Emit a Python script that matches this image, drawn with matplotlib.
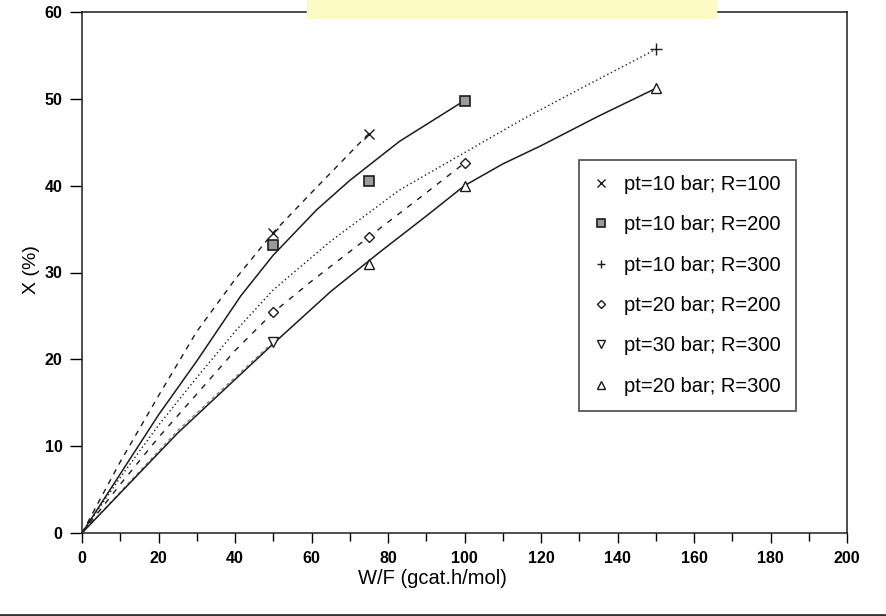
import matplotlib
matplotlib.use("Agg")
import matplotlib.pyplot as plt
from matplotlib.patches import Rectangle
from matplotlib.lines import Line2D

plt.rcParams['font.family'] = ['Liberation Sans', 'DejaVu Sans']

# ---- measured points ----
labels = ["pt=10 bar; R=100", "pt=10 bar; R=200", "pt=10 bar; R=300",
          "pt=20 bar; R=200", "pt=30 bar; R=300", "pt=20 bar; R=300"]

x1 = [50, 75];            y1 = [34.5, 46.0]
x2 = [50, 75, 100];       y2 = [33.2, 40.5, 49.8]
x3 = [150];               y3 = [55.7]
x4 = [50, 75, 100];       y4 = [25.5, 34.1, 42.6]
x5 = [50];                y5 = [22.0]
x6 = [75, 100, 150];      y6 = [31.0, 40.0, 51.2]

# ---- model curves ----
cx1 = [0, 10, 20, 30, 40, 50, 60, 75]
cy1 = [0, 8.2, 15.8, 23.2, 29.2, 34.6, 39.2, 46.0]
cx2 = [0, 20, 30, 41.5, 50, 61.3, 70, 83, 100]
cy2 = [0, 13.6, 19.8, 27.3, 32.0, 37.2, 40.6, 45.1, 49.8]
cx3 = [0, 10, 20, 30, 40, 50, 65, 83, 100, 115, 130, 150]
cy3 = [0, 6.4, 12.4, 17.9, 23.2, 28.0, 33.6, 39.5, 43.8, 47.6, 51.1, 55.7]
cx4 = [0, 10, 20, 30, 40, 50, 60, 75, 88, 100]
cy4 = [0, 5.6, 11.0, 16.0, 21.0, 25.4, 29.0, 34.1, 38.5, 42.6]
cx5 = [0, 25, 50]
cy5 = [0, 11.8, 22.0]
cx6 = [0, 25, 51, 65, 78, 90, 100, 110, 120, 135, 150]
cy6 = [0, 11.5, 22.2, 27.8, 32.4, 36.5, 40.0, 42.5, 44.6, 48.0, 51.2]

xticks = list(range(0, 201, 20))
yticks = list(range(0, 61, 10))

fig = plt.figure(figsize=(8.86, 6.16), dpi=100)
ax = fig.add_axes([82/886, 1-533/616, (847-82)/886, (533-12)/616])

ink = '#1c1c1c'
ax.plot(cx1, cy1, color=ink, lw=1.0, dashes=(4, 4))
ax.plot(cx2, cy2, color=ink, lw=1.1)
ax.plot(cx3, cy3, color=ink, lw=1.0, dashes=(1, 2))
ax.plot(cx4, cy4, color=ink, lw=1.0, dashes=(4, 5))
ax.plot(cx5, cy5, color='#777777', lw=0.8, dashes=(3, 3))
ax.plot(cx6, cy6, color=ink, lw=1.1)

mk = dict(linestyle='none', color=ink)
ax.plot(x1, y1, marker='x', ms=7, mew=1.0, label=labels[0], **mk)
ax.plot(x2, y2, marker='s', ms=7, mew=1.2, mfc='#9a9a9a', mec=ink, label=labels[1], **mk)
ax.plot(x3, y3, marker='+', ms=8, mew=1.0, label=labels[2], **mk)
ax.plot(x4, y4, marker='D', ms=5, mew=1.0, mfc='white', mec=ink, label=labels[3], **mk)
ax.plot(x5, y5, marker='v', ms=7, mew=1.0, mfc='white', mec=ink, label=labels[4], **mk)
ax.plot(x6, y6, marker='^', ms=7, mew=1.0, mfc='white', mec=ink, label=labels[5], **mk)

ax.set_xlim(0, 200)
ax.set_ylim(0, 60)
ax.set_xticks(xticks)
ax.set_yticks(yticks)
ax.set_xticks(list(range(10, 200, 20)), minor=True)
ax.tick_params(axis='x', which='major', direction='out', length=7, width=1, labelsize=11.5, pad=6)
ax.tick_params(axis='x', which='minor', direction='out', length=6, width=1)
ax.tick_params(axis='y', direction='out', length=9, width=1, labelsize=11.5, pad=5)
for lab in ax.get_xticklabels() + ax.get_yticklabels():
    lab.set_fontweight('bold')
for s in ax.spines.values():
    s.set_linewidth(1.1)
    s.set_color(ink)

ax.set_xlabel("W/F (gcat.h/mol)", fontsize=14.5)
ax.xaxis.set_label_coords((432-82)/765, -(578-533)/521)
ax.xaxis.label.set_va('center')
ax.set_ylabel("X (%)", fontsize=14)
ax.yaxis.set_label_coords(-(82-32)/765, (533-270)/521)
ax.yaxis.label.set_va('center')

leg = ax.legend(loc='upper left', bbox_to_anchor=((579-82)/765, (533-160)/521),
                borderaxespad=0, fontsize=14.5, frameon=True, fancybox=False,
                edgecolor=ink, handlelength=0.7, handletextpad=0.8,
                borderpad=0.75, labelspacing=1.06, markerscale=0.75)
leg.get_frame().set_linewidth(1.2)

# scan decorations: yellow highlight at top and dark edge at bottom
fig.patches.append(Rectangle((307/886, 1-18/616), (716-307)/886, 18/616,
                             transform=fig.transFigure, color='#fcfbc4', zorder=0))
fig.lines.append(Line2D([0, 1], [1.5/616, 1.5/616], transform=fig.transFigure,
                        color='#333333', lw=2))

fig.savefig("out.png", dpi=100)
